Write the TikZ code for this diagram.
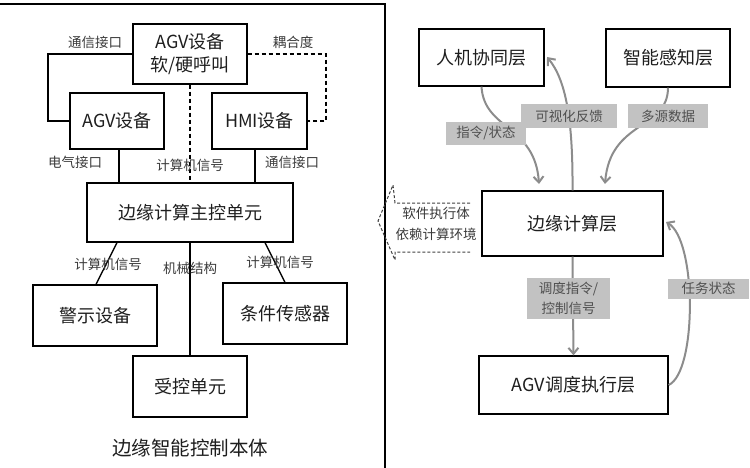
\documentclass[tikz,border=0pt]{standalone}
\usepackage{fontspec}
\setmainfont{Noto Sans CJK SC}
\usetikzlibrary{arrows.meta}
\definecolor{arrg}{HTML}{8C8C8C}
\definecolor{lblg}{HTML}{C2C2C2}
\definecolor{lbltxt}{HTML}{505050}
\definecolor{txtd}{HTML}{1E1E1E}
\definecolor{smalltxt}{HTML}{3A3A3A}
\tikzset{
  boxnode/.style={draw=black, line width=1.3pt, inner sep=0pt, text=txtd,
    font=\fontsize{18}{23}\selectfont, align=center},
  smalllbl/.style={inner sep=0pt, text=smalltxt, font=\fontsize{13.5}{16}\selectfont},
  graylbl/.style={fill=lblg, inner sep=0pt, text=lbltxt, align=center,
    font=\fontsize{13.5}{20}\selectfont},
  conn/.style={line width=1.3pt, black},
  dconn/.style={line width=1.3pt, black, dash pattern=on 4pt off 3pt},
  garrow/.style={line width=2pt, arrg, -{Straight Barb[length=6pt,width=10pt,line width=2pt]}}
}
\begin{document}
\begin{tikzpicture}[x=1pt,y=-1pt]
\useasboundingbox (0,0) rectangle (750,468);
% ---------- left panel frame
\coordinate (f1) at (0,4);
\coordinate (f2) at (385,4);
\coordinate (f3) at (385,468);
\draw[line width=1.4pt] (f1) -- (f2) -- (f3);

% ---------- left nodes
\node[boxnode, minimum width=114pt, minimum height=60pt] (call) at (190,54) {AGV设备\\软/硬呼叫};
\node[boxnode, minimum width=94pt, minimum height=56pt] (agv) at (117,121) {AGV设备};
\node[boxnode, minimum width=95pt, minimum height=56pt] (hmi) at (259.5,121) {HMI设备};
\node[boxnode, minimum width=206pt, minimum height=59pt] (main) at (190,212.5) {边缘计算主控单元};
\node[boxnode, minimum width=124pt, minimum height=61pt] (warn) at (95,315.5) {警示设备};
\node[boxnode, minimum width=124pt, minimum height=61pt] (sensor) at (285,313.5) {条件传感器};
\node[boxnode, minimum width=114pt, minimum height=61pt] (ctrl) at (190,386.5) {受控单元};

% ---------- left connectors
\coordinate (c1) at (48,54);
\coordinate (c2) at (48,121);
\draw[conn] (call.west) -- (c1) -- (c2) -- (agv.west);
\coordinate (d1) at (326,54);
\coordinate (d2) at (326,121);
\draw[dconn] (call.east) -- (d1) -- (d2) -- (hmi.east);
\draw[dconn] (call.south) -- (main.north);
\draw[conn] ([xshift=2pt]agv.south) -- ([xshift=2pt]agv.south |- main.north);
\draw[conn] ([xshift=-4.5pt]hmi.south) -- ([xshift=-4.5pt]hmi.south |- main.north);
\draw[conn] ([xshift=-73pt]main.south) -- ([xshift=1pt]warn.north);
\draw[conn] ([xshift=75pt]main.south) -- (sensor.north);
\draw[conn] (main.south) -- (ctrl.north);

% ---------- left labels
\node[smalllbl] (l1) at (95,42) {通信接口};
\node[smalllbl] (l2) at (293,42) {耦合度};
\node[smalllbl] (l3) at (75,162) {电气接口};
\node[smalllbl] (l4) at (190,165) {计算机信号};
\node[smalllbl] (l5) at (292,162) {通信接口};
\node[smalllbl] (l6) at (108,264) {计算机信号};
\node[smalllbl] (l7) at (190,268) {机械结构};
\node[smalllbl] (l8) at (280,262) {计算机信号};
\node[inner sep=0pt, text=txtd, font=\fontsize{19.5}{22}\selectfont] (title) at (190,448) {边缘智能控制本体};

% ---------- dashed block arrow
\coordinate (b1) at (470,203);
\coordinate (b2) at (395,203);
\coordinate (b3) at (393,185);
\coordinate (b4) at (378,221);
\coordinate (b5) at (395,260);
\coordinate (b6) at (395,252);
\coordinate (b7) at (470,252);
\draw[line width=1pt, black!75, dash pattern=on 3pt off 2pt] (b1) -- (b2) -- (b3) -- (b4) -- (b5) -- (b6) -- (b7);
\node[inner sep=0pt, text=smalltxt, align=center, font=\fontsize{13.5}{21}\selectfont] (soft) at (436,224) {软件执行体\\依赖计算环境};

% ---------- right nodes
\node[boxnode, minimum width=125pt, minimum height=57pt] (hm) at (481.5,57.5) {人机协同层};
\node[boxnode, minimum width=124pt, minimum height=58pt] (pc) at (668,58) {智能感知层};
\node[boxnode, minimum width=181pt, minimum height=65pt] (ec) at (572.5,223.5) {边缘计算层};
\node[boxnode, minimum width=189pt, minimum height=58pt] (ex) at (573.5,385) {AGV调度执行层};

% ---------- right arrows
\coordinate (t1) at (539,184);
\coordinate (t2) at (547,57);
\coordinate (t3) at (605,184);
\coordinate (t5) at (666,222);
\draw[garrow] (hm.south) .. controls (484,130) and (535,125) .. (t1);
\draw[garrow] (ec.north) .. controls (573,120) and (566,80) .. (t2);
\draw[garrow] (pc.south) .. controls (668,130) and (610,120) .. (t3);
\draw[garrow] (ec.south) -- (ex.north);
\draw[garrow] (ex.east) .. controls (697,372) and (697,240) .. (t5);

% ---------- gray labels
\node[graylbl, minimum width=80pt, minimum height=23pt] (g1) at (486,133.5) {指令/状态};
\node[graylbl, minimum width=96pt, minimum height=24pt] (g2) at (569,116) {可视化反馈};
\node[graylbl, minimum width=80pt, minimum height=24pt] (g3) at (668,116) {多源数据};
\node[graylbl, minimum width=83pt, minimum height=41pt] (g4) at (568.5,298.5) {调度指令/\\控制信号};
\node[graylbl, minimum width=81pt, minimum height=20pt] (g5) at (708.5,288.5) {任务状态};
\end{tikzpicture}
\end{document}
